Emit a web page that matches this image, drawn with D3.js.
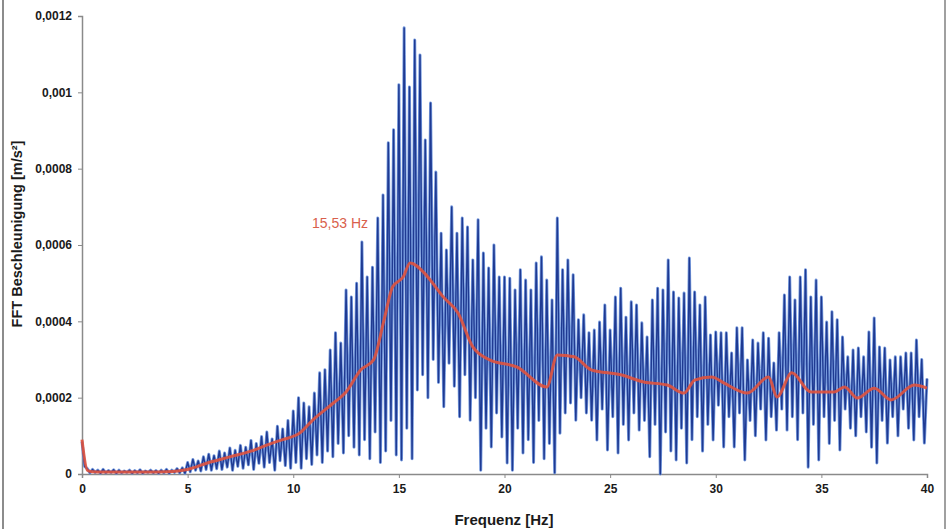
<!DOCTYPE html>
<html>
<head>
<meta charset="utf-8">
<script src="https://cdn.jsdelivr.net/npm/d3@7"></script>
<style>
  body { margin: 0; background: #fff; }
  svg { display: block; }
</style>
</head>
<body>
<script>
// FFT trace: spectrum sampled every 0.125 Hz from 0 to 40 Hz.
// Values in 10^-6 m/s². Local maxima sit on the 0.25 Hz grid,
// the minima between them on the 0.125 Hz offsets.
const freqStep = 0.125;
const peakAmp = [
  85, 14, 12, 10, 12, 9, 11, 10, 8, 10, 9, 11, 8, 10, 9, 10, 12, 10, 14, 16,
  30, 38, 34, 45, 52, 48, 60, 55, 68, 62, 75, 70, 88, 80, 98, 110, 92, 125, 118, 140,
  165, 200, 186, 176, 212, 265, 273, 325, 370, 343, 482, 464, 500, 608, 516, 542, 671, 731, 868, 902,
  1020, 1169, 1014, 1137, 1098, 875, 972, 791, 631, 587, 700, 631, 671, 647, 561, 666, 579, 540, 600, 516,
  516, 513, 482, 535, 508, 482, 553, 569, 508, 456, 671, 535, 561, 522, 404, 417, 370, 377, 398, 443,
  377, 464, 487, 411, 451, 443, 396, 359, 456, 487, 482, 561, 477, 461, 474, 566, 477, 443, 464, 364,
  372, 370, 370, 317, 383, 383, 299, 351, 343, 370, 356, 291, 370, 469, 516, 456, 516, 535, 464, 508,
  464, 398, 425, 404, 359, 307, 325, 330, 307, 372, 409, 333, 330, 299, 307, 307, 317, 317, 351, 300,
  250
];
const dipAmp = [
  20, 3, 4, 2, 3, 4, 2, 3, 4, 2, 3, 2, 4, 3, 2, 3, 2, 4, 3, 2,
  6, 10, 8, 12, 10, 14, 12, 18, 10, 20, 15, 24, 12, 28, 18, 30, 10, 35, 22, 15,
  30, 15, 40, 25, 50, 30, 60, 45, 80, 55, 100, 70, 50, 90, 40, 110, 30, 60, 140, 50,
  37, 120, 40, 220, 260, 200, 300, 240, 176, 290, 230, 150, 260, 141, 200, 10, 120, 71, 160, 97,
  29, 10, 120, 55, 90, 30, 140, 40, 80, 3, 107, 160, 186, 141, 200, 160, 141, 89, 170, 63,
  150, 55, 130, 89, 160, 115, 140, 45, 130, 0, 110, 60, 37, 120, 29, 90, 150, 60, 130, 89,
  180, 71, 150, 71, 160, 37, 140, 100, 170, 89, 150, 115, 170, 115, 150, 90, 160, 18, 130, 37,
  150, 80, 140, 63, 170, 120, 100, 150, 110, 70, 29, 140, 81, 150, 100, 170, 120, 89, 150, 81
];

// Smoothed spectrum (Hz, 10^-6 m/s²)
const smoothFreq = [0, 0.25, 0.5, 1, 2, 3, 4, 5, 6, 7, 8, 9, 9.5, 10.3, 10.9, 11.9, 12.5, 13.2, 13.8, 14.3, 14.7, 15.2, 15.53,
  16.2, 16.6, 17.1, 17.8, 18.5, 19.3, 20.6, 22.0, 22.5, 23.3, 24.1, 25.5, 26.6, 27.7, 28.5, 29.0, 29.8, 30.4, 31.5,
  32.5, 32.9, 33.6, 34.5, 35.6, 36.1, 36.7, 37.5, 38.3, 39.4, 40];
const smoothAmp = [90, 10, 6, 5, 5, 5, 6, 12, 30, 45, 60, 81, 90, 107, 140, 186, 215, 273, 299, 404, 490, 516, 553,
  527, 500, 464, 422, 333, 299, 280, 228, 312, 307, 273, 260, 241, 233, 212, 246, 254, 238, 212,
  254, 202, 265, 215, 215, 228, 199, 225, 194, 233, 225];

const peakFreq = 15.53;
const peakText = "15,53 Hz";

const xTicks = [0, 5, 10, 15, 20, 25, 30, 35, 40];
const yTicks = [0, 0.0002, 0.0004, 0.0006, 0.0008, 0.001, 0.0012];
const xTitle = "Frequenz [Hz]";
const yTitle = "FFT Beschleunigung [m/s²]";

const W = 949, H = 529;
const unit = 1e-6;

// Interleave maxima and minima into one trace
const trace = [];
peakAmp.forEach((p, k) => {
  trace.push({ f: k * 2 * freqStep, a: p * unit });
  if (k < dipAmp.length) trace.push({ f: (k * 2 + 1) * freqStep, a: dipAmp[k] * unit });
});
const smooth = smoothFreq.map((f, i) => ({ f, a: smoothAmp[i] * unit }));

const svg = d3.select("body").append("svg").attr("width", W).attr("height", H)
  .style("font-family", "Arial, 'Liberation Sans', sans-serif");

svg.append("rect").attr("width", W).attr("height", H).attr("fill", "#fff");

const x = d3.scaleLinear().domain([0, 40]).range([82, 927]);
const y = d3.scaleLinear().domain([0, 0.0012]).range([474, 16]);

// outer frame edges
svg.append("line").attr("x1", 3).attr("x2", 3).attr("y1", 0).attr("y2", H)
  .attr("stroke", "#8c8c8c").attr("stroke-width", 2);
svg.append("line").attr("x1", 945).attr("x2", 945).attr("y1", 0).attr("y2", H)
  .attr("stroke", "#a0a0a0").attr("stroke-width", 2);

const fmt = v => String(v).replace(".", ",");

const gx = svg.append("g").attr("transform", `translate(0,${y(0)})`)
  .call(d3.axisBottom(x).tickValues(xTicks).tickSize(4).tickPadding(6).tickFormat(fmt));
const gy = svg.append("g").attr("transform", `translate(${x(0)},0)`)
  .call(d3.axisLeft(y).tickValues(yTicks).tickSize(4).tickPadding(6).tickFormat(fmt));

[gx, gy].forEach(g => {
  g.select(".domain").attr("stroke", "#8a8a8a").attr("stroke-width", 1.5);
  g.selectAll(".tick line").attr("stroke", "#8a8a8a");
  g.selectAll(".tick text").attr("fill", "#1a1a1a").attr("font-size", 12)
    .attr("font-weight", "bold").attr("font-family", "Arial, 'Liberation Sans', sans-serif");
});

// FFT trace: light halo under a dark core stroke
const line = d3.line().x(d => x(d.f)).y(d => y(d.a));
svg.append("path").datum(trace).attr("d", line)
  .attr("fill", "none").attr("stroke", "#5f8ad8").attr("stroke-width", 3)
  .attr("stroke-linejoin", "round").attr("stroke-opacity", 0.85);
svg.append("path").datum(trace).attr("d", line)
  .attr("fill", "none").attr("stroke", "#1f3a92").attr("stroke-width", 1.4)
  .attr("stroke-linejoin", "round");

// smoothed spectrum
const smoothLine = d3.line().x(d => x(d.f)).y(d => y(d.a)).curve(d3.curveMonotoneX);
svg.append("path").datum(smooth).attr("d", smoothLine)
  .attr("fill", "none").attr("stroke", "#e0533e").attr("stroke-width", 3)
  .attr("stroke-opacity", 0.9);

// peak annotation
const peakAmpVal = smooth.find(d => d.f === peakFreq).a;
svg.append("text").attr("x", x(peakFreq) - 42).attr("y", y(peakAmpVal) - 35)
  .attr("text-anchor", "end").attr("font-size", 14).attr("fill", "#d9604c")
  .text(peakText);

// axis titles
svg.append("text").attr("x", 504).attr("y", 525).attr("text-anchor", "middle")
  .attr("font-size", 15).attr("font-weight", "bold").attr("fill", "#1a1a1a").text(xTitle);
svg.append("text").attr("transform", "translate(22,234) rotate(-90)").attr("text-anchor", "middle")
  .attr("font-size", 14.5).attr("font-weight", "bold").attr("fill", "#1a1a1a").text(yTitle);
</script>
</body>
</html>
